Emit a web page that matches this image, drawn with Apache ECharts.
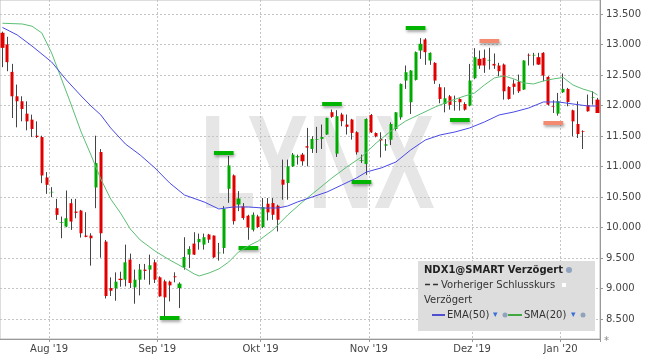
<!DOCTYPE html>
<html><head><meta charset="utf-8">
<script src="https://cdn.jsdelivr.net/npm/echarts@6/dist/echarts.min.js"></script>
<style>html,body{margin:0;padding:0;background:#fff}#c{width:645px;height:358px}</style>
</head><body><div id="c"></div>
<script>
const opens = [13192,13000,12551,12151,12069,11866,11768,11505,11483,10821,
10575,10317,10076,10016,10399,10262,10278,9868,9868,10656,
11237,9769,9008,9003,9161,9145,9474,9019,9145,9310,
9310,9430,9184,9118,9112,9200,9008,9348,9556,9737,
9759,9720,9885,9868,9578,9665,10635,10854,10377,10346,
10193,9963,10182,10007,10390,10401,10357,10784,10730,11003,
11151,11195,11332,11288,11436,11452,11524,11890,11211,11852,
11688,11770,11562,11096,11040,11845,11549,11450,11341,11439,
11615,11806,12409,12053,12420,12901,13082,12737,12699,12299,
12025,12151,12058,12107,12025,11998,12447,12765,12781,12737,
12682,12655,12671,12305,12359,12387,12261,12830,12819,12792,
12863,12469,11992,11866,12217,12272,11921,11697,11582,12003,
12129,12096];
const closes = [12945,12710,12151,12069,11943,11740,11615,11483,10853,10700,
10585,10207,10086,10152,10098,10240,9906,9846,9824,11056,
9906,8877,8964,9112,9139,9430,9091,9145,9310,9288,
9381,9145,8872,8855,9052,9185,9080,9518,9649,9556,
9813,9841,9802,9512,9589,10306,11018,10104,10476,10155,
10001,10209,10007,10335,10248,10209,10127,10702,11003,11195,
11168,11086,11310,11452,11447,11485,11797,11814,11825,11743,
11650,11551,11233,11107,11779,11560,11494,11428,11363,11697,
11888,12354,12545,12573,12874,13011,12874,12863,12409,12107,
12118,12009,12069,12053,11932,12409,12792,12655,12655,12748,
12655,12562,12233,12107,12305,12233,12737,12819,12830,12671,
12491,12014,11981,12069,12272,12058,11740,11532,11571,11905,
12140,11877];
const lows = [12628,12562,11795,11642,11740,11593,11483,11467,10727,10552,
10497,10125,9824,10005,9961,10152,9835,9841,9375,10317,
9506,8838,8877,8800,9030,9036,9008,8751,8888,9145,
9063,9091,8866,8543,8789,9102,8680,9310,9337,9550,
9638,9638,9748,9500,9457,9572,10405,10049,10268,10127,
9799,9936,9990,9990,10116,10127,9936,10456,10456,10992,
11031,11014,11003,11222,11222,11288,11520,11797,11157,11660,
11524,11441,11195,11058,10864,11549,11478,11149,11259,11352,
11587,11768,12272,11861,12409,12765,12666,12666,12354,12036,
11888,11932,11916,11916,11916,11987,12430,12600,12535,12589,
12600,12480,12096,12096,12179,12206,12255,12655,12655,12665,
12398,12000,11877,11833,12206,11987,11494,11467,11286,11900,
12014,11877];
const highs = [13210,13126,12682,12343,12151,12069,11850,11740,11505,10908,
10662,10470,10180,10607,10470,10470,10289,10251,9906,11505,
11286,9796,9183,9265,9276,9720,9572,9310,9403,9403,
9556,9474,9200,9145,9129,9266,9102,9841,9693,9923,
9901,9901,9896,9870,9748,10350,11171,10870,10596,10401,
10209,10248,10209,10483,10483,10483,10374,11113,11113,11222,
11195,11222,11633,11496,11650,11688,11800,11934,11923,11880,
11852,11781,11578,11195,11790,11861,11560,11560,11450,11724,
11890,12360,12655,12580,12885,13104,13104,12870,12710,12354,
12299,12173,12162,12118,12053,12682,12940,12901,12918,12945,
12852,12699,12688,12316,12425,12507,12740,12852,12863,12863,
12874,12480,12086,12206,12524,12288,11932,12069,11593,12179,
12233,12124];

const monthStartIdx = [10, 32, 53, 75, 96, 114];
const monthNames = ["Aug '19", "Sep '19", "Okt '19", "Nov '19", "Dez '19", "Jan '20"];
const yTicks = [8500, 9000, 9500, 10000, 10500, 11000, 11500, 12000, 12500, 13000, 13500];

const smaIdx = [0,4,6,8,10,12,14,16,18,20,22,24,26,28,31,34,37,39,40,42,44,46,48,50,52,55,58,61,64,67,70,73,76,79,82,85,88,91,94,96,98,100,102,104,106,108,110,112,114,116,118,120,121];
const smaVal = [13348,13336,13300,13189,12861,12435,12008,11566,11189,10796,10468,10238,9976,9796,9616,9468,9337,9239,9206,9255,9321,9435,9599,9698,9779,9960,10206,10419,10615,10812,10992,11156,11386,11583,11746,11861,11976,12074,12156,12205,12336,12451,12484,12435,12369,12353,12402,12435,12459,12336,12271,12222,12172];
const emaIdx = [0,3,6,10,13,16,18,20,22,25,28,31,34,37,41,44,47,50,53,56,58,60,63,66,69,72,74,77,80,83,86,89,92,95,98,101,104,107,110,113,116,119,121];
const emaVal = [13279,13156,12975,12713,12418,12156,11992,11845,11632,11369,11189,10976,10730,10533,10419,10304,10337,10337,10320,10320,10353,10419,10501,10583,10697,10812,10910,10976,11074,11271,11435,11517,11566,11632,11730,11845,11894,11959,12058,12058,12025,11992,11992];

const markerStart = [32, 43, 48, 65, 71, 82, 91, 97, 110];
const markerEnd   = [36, 47, 52, 69, 75, 86, 95, 101, 114];
const markerLevel = [8526, 11233, 9676, 12036, 10751, 13282, 11774, 13053, 11722];
const markerKind  = ['g','g','g','g','g','g','g','r','r'];

const categories = opens.map((_, i) => 'T' + (i + 1));

function sparse(idx, val) {
  const a = new Array(opens.length).fill(null);
  idx.forEach((k, j) => { a[k] = val[j]; });
  return a;
}
function fmt(v) { return String(v).replace(/\B(?=(\d{3})+(?!\d))/g, '.'); }

const GREEN = '#00aa00', RED = '#e00000', WICK = '#444';
const FONT = 'DejaVu Sans';

const chart = echarts.init(document.getElementById('c'), null, { renderer: 'canvas' });
const isMonth = (i) => monthStartIdx.indexOf(i) >= 0;

chart.setOption({
  animation: false,
  backgroundColor: '#fff',
  grid: { left: 0, right: 45, top: 0, bottom: 19, show: true, borderColor: '#bbb', borderWidth: 1, backgroundColor: 'transparent' },
  xAxis: {
    type: 'category', data: categories, boundaryGap: true,
    axisLine: { show: true, lineStyle: { color: '#999' } },
    axisTick: { show: true, interval: isMonth, length: 3, lineStyle: { color: '#999' } },
    axisLabel: { interval: isMonth, formatter: (v, i) => monthNames[monthStartIdx.indexOf(i)],
      color: '#444', fontSize: 10, fontFamily: FONT, margin: 5, padding: [0, 5, 0, 0] },
    splitLine: { show: true, interval: isMonth, lineStyle: { color: '#c4c4c4', type: [2, 2], width: 1 } }
  },
  yAxis: {
    type: 'value', position: 'right', min: 8173, max: 13729, splitNumber: 11,
    axisLine: { show: true, lineStyle: { color: '#999' } },
    axisTick: { show: true, length: 3, customValues: yTicks, lineStyle: { color: '#999' } },
    axisLabel: { customValues: yTicks, formatter: fmt, color: '#444', fontSize: 10, fontFamily: FONT, margin: 6 },
    splitLine: { show: true, lineStyle: { color: '#c4c4c4', type: [2, 2], width: 1 } }
  },
  graphic: [
    { type: 'text', x: 200, y: 104, scaleX: 0.68, z: -10, silent: true,
      style: { text: 'LYNX', fontSize: 134, fontWeight: 'bold', fontFamily: 'Liberation Sans', fill: '#e6e6e6', textVerticalAlign: 'top' } },
    { type: 'rect', z: 100, silent: true, shape: { x: 418, y: 261, width: 177, height: 70 }, style: { fill: '#dddddd' } },
    { type: 'text', z: 101, x: 424, y: 270, style: { text: 'NDX1@SMART Verzögert', fontSize: 10, fontWeight: 'bold', fontFamily: FONT, fill: '#222', textVerticalAlign: 'middle' } },
    { type: 'circle', z: 101, shape: { cx: 569, cy: 270, r: 3 }, style: { fill: '#8fa3bd' } },
    { type: 'line', z: 101, shape: { x1: 425, y1: 284.5, x2: 438, y2: 284.5 }, style: { stroke: '#333', lineWidth: 1.3, lineDash: [5, 3] } },
    { type: 'text', z: 101, x: 441, y: 285, style: { text: 'Vorheriger Schlusskurs', fontSize: 10, fontFamily: FONT, fill: '#333', textVerticalAlign: 'middle' } },
    { type: 'rect', z: 101, shape: { x: 562, y: 283, width: 4, height: 4 }, style: { fill: '#fff' } },
    { type: 'text', z: 101, x: 424, y: 300, style: { text: 'Verzögert', fontSize: 10, fontFamily: FONT, fill: '#333', textVerticalAlign: 'middle' } },
    { type: 'line', z: 101, shape: { x1: 432, y1: 315, x2: 445, y2: 315 }, style: { stroke: '#2b2bd0', lineWidth: 1.6 } },
    { type: 'text', z: 101, x: 447, y: 315, style: { text: 'EMA(50)', fontSize: 10, fontFamily: FONT, fill: '#333', textVerticalAlign: 'middle' } },
    { type: 'text', z: 101, x: 493, y: 315, style: { text: '▾', fontSize: 9, fontFamily: FONT, fill: '#3a6fd6', textVerticalAlign: 'middle' } },
    { type: 'circle', z: 101, shape: { cx: 505, cy: 315, r: 2.5 }, style: { fill: '#8fa3bd' } },
    { type: 'line', z: 101, shape: { x1: 508, y1: 315, x2: 522, y2: 315 }, style: { stroke: '#1a9a1a', lineWidth: 1.6 } },
    { type: 'text', z: 101, x: 524, y: 315, style: { text: 'SMA(20)', fontSize: 10, fontFamily: FONT, fill: '#333', textVerticalAlign: 'middle' } },
    { type: 'text', z: 101, x: 571, y: 315, style: { text: '▾', fontSize: 9, fontFamily: FONT, fill: '#3a6fd6', textVerticalAlign: 'middle' } },
    { type: 'circle', z: 101, shape: { cx: 583, cy: 315, r: 2.5 }, style: { fill: '#8fa3bd' } },
    { type: 'text', z: 101, x: 604, y: 341, style: { text: '*', fontSize: 10, fontFamily: FONT, fill: '#888', textVerticalAlign: 'middle' } }
  ],
  series: [
    { type: 'candlestick', name: 'wick', silent: true, barWidth: 1,
      data: lows.map((l, i) => [l, l, l, highs[i]]),
      itemStyle: { color: WICK, color0: WICK, borderColor: WICK, borderColor0: WICK, borderColorDoji: WICK, borderWidth: 1 } },
    { type: 'candlestick', name: 'NDX1@SMART', silent: true, barWidth: 3.6,
      data: opens.map((o, i) => [o, closes[i], Math.min(o, closes[i]), Math.max(o, closes[i])]),
      itemStyle: { color: GREEN, color0: RED, borderColor: GREEN, borderColor0: RED, borderWidth: 0 } },
    { type: 'line', name: 'SMA(20)', data: sparse(smaIdx, smaVal), connectNulls: true, symbol: 'none', silent: true, z: 5,
      lineStyle: { color: '#5cbf74', width: 1 } },
    { type: 'line', name: 'EMA(50)', data: sparse(emaIdx, emaVal), connectNulls: true, symbol: 'none', silent: true, z: 5,
      lineStyle: { color: '#4a4ae6', width: 1 } },
    { type: 'line', name: 'markers', data: [], silent: true, z: 6,
      markLine: { symbol: ['none', 'none'], silent: true, animation: false, label: { show: false },
        lineStyle: { width: 4, type: 'solid', cap: 'butt', shadowBlur: 3, shadowColor: 'rgba(0,0,0,0.35)', shadowOffsetY: 2, shadowOffsetX: 1 },
        emphasis: { disabled: true },
        data: markerStart.map((s, j) => [
          { coord: [s, markerLevel[j]], lineStyle: { color: markerKind[j] === 'g' ? '#00b400' : '#f48a70' } },
          { coord: [markerEnd[j], markerLevel[j]] }
        ]) } }
  ]
});
</script></body></html>
